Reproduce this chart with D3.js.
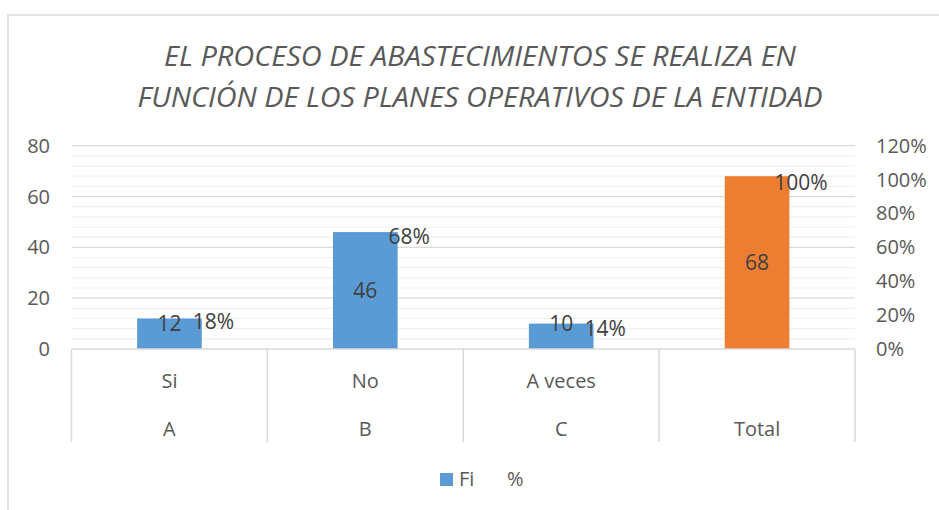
<!DOCTYPE html>
<meta charset="utf-8">
<html>
<script src="https://d3js.org/d3.v7.min.js"></script>
<style>
  body { margin: 0; background: #fff; }
  text { font-family: "Open Sans", "Noto Sans", sans-serif; }
</style>
<body>
<div id="my_dataviz"></div>
<script>

    // data
    const groups = ["Si", "No", "A veces", ""]
    const letters = ["A", "B", "C", "Total"]
    const fi = [12, 46, 10, 68]
    const pct = [0.18, 0.68, 0.14, 1.00]
    const leftTicks = [0, 20, 40, 60, 80]
    const rightTicks = [0, 0.2, 0.4, 0.6, 0.8, 1.0, 1.2]
    const titleLines = ["EL PROCESO DE ABASTECIMIENTOS SE REALIZA EN",
                        "FUNCIÓN DE LOS PLANES OPERATIVOS DE LA ENTIDAD"]

    const width = 939, height = 510
    const plot = {left: 71.5, right: 855, top: 145.7, bottom: 349}

    const svg = d3.select("#my_dataviz")
      .append("svg")
        .attr("width", width)
        .attr("height", height)

    // chart border (runs off the right and bottom)
    svg.append("rect")
      .attr("x", 8).attr("y", 15)
      .attr("width", 1000).attr("height", 600)
      .attr("fill", "none")
      .attr("stroke", "#d9d9d9")
      .attr("stroke-width", 1.5)

    // title, stretched to Calibri widths
    const titleWidths = [632, 685]
    svg.selectAll("text.title")
      .data(titleLines)
      .join("text")
        .attr("class", "title")
        .attr("x", 480)
        .attr("y", (d, i) => 66 + i * 41)
        .attr("text-anchor", "middle")
        .attr("textLength", (d, i) => titleWidths[i])
        .attr("lengthAdjust", "spacingAndGlyphs")
        .style("font-size", "28px")
        .style("font-style", "italic")
        .style("fill", "#595959")
        .text(d => d)

    // scales
    const cells = d3.scaleBand()
      .domain(letters)
      .range([plot.left, plot.right])
      .padding(0)
    const x = d3.scaleBand()
      .domain(letters)
      .range([plot.left, plot.right])
      .paddingInner(0.67)
      .paddingOuter(0.335)
    const y = d3.scaleLinear().domain([0, 80]).range([plot.bottom, plot.top])
    const yR = d3.scaleLinear().domain([0, 1.2]).range([plot.bottom, plot.top])

    // gridlines: minor every 4, major every 20
    const minor = d3.range(4, 81, 4).filter(v => v % 20 != 0)
    svg.selectAll("line.minor")
      .data(minor)
      .join("line")
        .attr("x1", plot.left).attr("x2", plot.right)
        .attr("y1", d => y(d)).attr("y2", d => y(d))
        .attr("stroke", "#f0f0f0")
        .attr("stroke-width", 1.2)
    svg.selectAll("line.major")
      .data(leftTicks.filter(v => v > 0))
      .join("line")
        .attr("x1", plot.left).attr("x2", plot.right)
        .attr("y1", d => y(d)).attr("y2", d => y(d))
        .attr("stroke", "#d9d9d9")
        .attr("stroke-width", 1.2)

    // left axis labels
    svg.selectAll("text.yl")
      .data(leftTicks)
      .join("text")
        .attr("x", 50)
        .attr("y", d => y(d))
        .attr("dy", "0.35em")
        .attr("text-anchor", "end")
        .style("font-size", "20px")
        .style("fill", "#595959")
        .text(d => d)

    // right axis labels
    svg.selectAll("text.yr")
      .data(rightTicks)
      .join("text")
        .attr("x", 876)
        .attr("y", d => yR(d))
        .attr("dy", "0.35em")
        .style("font-size", "20px")
        .style("fill", "#595959")
        .text(d => d3.format(".0%")(d))

    // bars
    svg.selectAll("rect.bar")
      .data(fi)
      .join("rect")
        .attr("x", (d, i) => x(letters[i]))
        .attr("y", d => y(d))
        .attr("width", x.bandwidth())
        .attr("height", d => y(0) - y(d))
        .attr("fill", (d, i) => letters[i] == "Total" ? "#ed7d31" : "#5b9bd5")

    // category axis: baseline and separators
    svg.append("line")
      .attr("x1", plot.left).attr("x2", plot.right)
      .attr("y1", plot.bottom).attr("y2", plot.bottom)
      .attr("stroke", "#d9d9d9").attr("stroke-width", 1.5)
    svg.selectAll("line.sep")
      .data(letters.map(d => cells(d)).concat([plot.right]))
      .join("line")
        .attr("x1", d => d).attr("x2", d => d)
        .attr("y1", plot.bottom).attr("y2", 442)
        .attr("stroke", "#d9d9d9").attr("stroke-width", 1.5)

    svg.selectAll("text.grp")
      .data(groups)
      .join("text")
        .attr("x", (d, i) => cells(letters[i]) + cells.bandwidth() / 2)
        .attr("y", 388)
        .attr("text-anchor", "middle")
        .style("font-size", "20px")
        .style("fill", "#595959")
        .text(d => d)
    svg.selectAll("text.let")
      .data(letters)
      .join("text")
        .attr("x", d => cells(d) + cells.bandwidth() / 2)
        .attr("y", 436)
        .attr("text-anchor", "middle")
        .style("font-size", "20px")
        .style("fill", "#595959")
        .text(d => d)

    // data labels for Fi (centred, pushed up on short bars)
    svg.selectAll("text.fi")
      .data(fi)
      .join("text")
        .attr("x", (d, i) => x(letters[i]) + x.bandwidth() / 2)
        .attr("y", d => Math.min(y(d / 2), y(10)))
        .attr("dy", "0.35em")
        .attr("text-anchor", "middle")
        .style("font-size", "21px")
        .style("fill", "#404040")
        .text(d => d)

    // data labels for % (invisible series on the right axis)
    svg.selectAll("text.pct")
      .data(pct)
      .join("text")
        .attr("x", (d, i) => x(letters[i]) + x.bandwidth() / 2 + x.bandwidth() * 0.68)
        .attr("y", d => yR(d) + 3)
        .attr("dy", "0.35em")
        .attr("text-anchor", "middle")
        .style("font-size", "21px")
        .style("fill", "#404040")
        .text(d => d3.format(".0%")(d))

    // legend
    svg.append("rect")
      .attr("x", 440).attr("y", 473)
      .attr("width", 13).attr("height", 13)
      .attr("fill", "#5b9bd5")
    svg.append("text")
      .attr("x", 459).attr("y", 486)
      .style("font-size", "20px")
      .style("fill", "#595959")
      .text("Fi")
    svg.append("text")
      .attr("x", 507).attr("y", 486)
      .style("font-size", "20px")
      .style("fill", "#595959")
      .text("%")

</script>
</body>
</html>
